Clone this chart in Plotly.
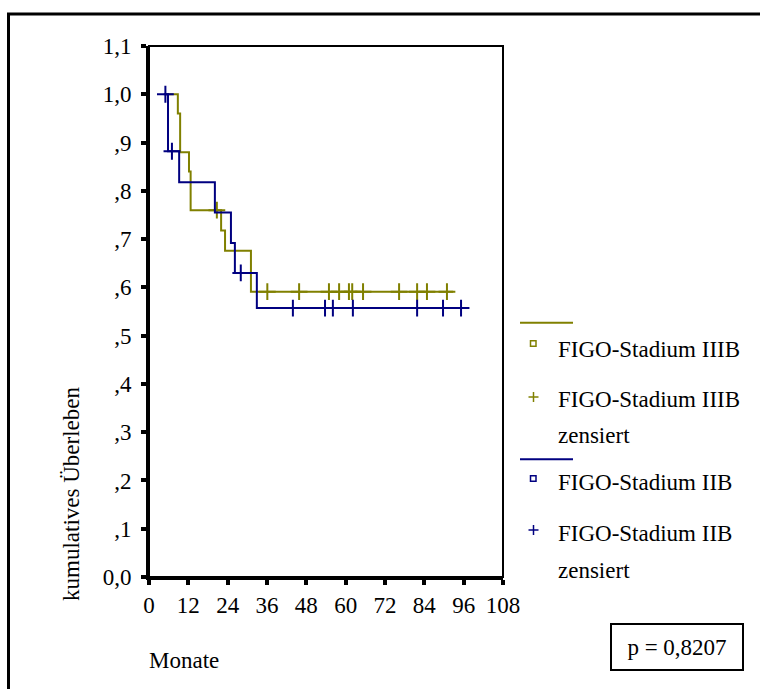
import plotly.graph_objects as go

# Kaplan-Meier estimates: time in months, cumulative survival
iiib_time = [5.0, 8.8, 9.5, 12.2, 12.7, 22.0, 23.2, 31.1, 92.8]
iiib_surv = [1.000, 0.960, 0.880, 0.840, 0.760, 0.718, 0.676, 0.591, 0.591]
iiib_cens_time = [20.7, 36.1, 45.8, 54.9, 58.0, 61.0, 62.0, 65.3, 76.3, 81.8, 84.8, 90.9]
iiib_cens_surv = [0.760, 0.591, 0.591, 0.591, 0.591, 0.591, 0.591, 0.591, 0.591, 0.591, 0.591, 0.591]

iib_time = [4.5, 5.8, 9.2, 20.1, 25.0, 26.2, 32.9, 96.9]
iib_surv = [1.000, 0.882, 0.818, 0.755, 0.692, 0.630, 0.557, 0.557]
iib_cens_time = [5.0, 7.0, 28.0, 43.9, 53.7, 56.1, 62.2, 81.8, 89.7, 95.2]
iib_cens_surv = [1.000, 0.882, 0.630, 0.557, 0.557, 0.557, 0.557, 0.557, 0.557, 0.557]

x_ticks = [0, 12, 24, 36, 48, 60, 72, 84, 96, 108]
y_ticks = [0.0, 0.1, 0.2, 0.3, 0.4, 0.5, 0.6, 0.7, 0.8, 0.9, 1.0, 1.1]
y_tick_labels = ["0,0", ",1", ",2", ",3", ",4", ",5", ",6", ",7", ",8", ",9", "1,0", "1,1"]

group_names = ["FIGO-Stadium IIIB", "FIGO-Stadium IIB"]
censored_word = "zensiert"
p_text = "p = 0,8207"

OLIVE = "#808000"
NAVY = "#000080"
FONT = "Times New Roman, Liberation Serif, serif"
FS = 21
FS_LEG = 23

W, H = 760, 689
PL, PR, PT, PB = 149, 503, 46, 577


def px(x):
    return (x - PL) / (PR - PL)


def py(y):
    return (PB - y) / (PB - PT)


fig = go.Figure()

for t, s, ct, cs, col in [
    (iiib_time, iiib_surv, iiib_cens_time, iiib_cens_surv, OLIVE),
    (iib_time, iib_surv, iib_cens_time, iib_cens_surv, NAVY),
]:
    fig.add_trace(go.Scatter(x=t, y=s, mode="lines", line=dict(color=col, width=2, shape="hv"),
                             showlegend=False, hoverinfo="skip"))
    fig.add_trace(go.Scatter(x=ct, y=cs, mode="markers",
                             marker=dict(symbol="cross-thin", size=12, line=dict(color=col, width=2)),
                             showlegend=False, hoverinfo="skip"))

shapes = []
annotations = []

# outer frame
shapes.append(dict(type="rect", xref="paper", yref="paper", x0=px(8.5), x1=px(900), y0=py(900), y1=py(14),
                   line=dict(color="black", width=3)))
# plot frame
shapes.append(dict(type="rect", xref="paper", yref="paper", x0=0, x1=1, y0=0, y1=1,
                   line=dict(color="black", width=2)))

# legend block
legend_rows = [
    (OLIVE, 322.7, 343.5, 349, 397, 399, 435),
    (NAVY, 459.3, 478.5, 482, 530, 533, 570),
]
for (col, y_line, y_sq, y_txt, y_plus, y_txt2, y_zens), name in zip(legend_rows, group_names):
    shapes.append(dict(type="line", xref="paper", yref="paper", x0=px(520), x1=px(573), y0=py(y_line), y1=py(y_line),
                       line=dict(color=col, width=2)))
    shapes.append(dict(type="rect", xref="paper", yref="paper", x0=px(530.5), x1=px(536), y0=py(y_sq + 2.75), y1=py(y_sq - 2.75),
                       line=dict(color=col, width=1.5)))
    shapes.append(dict(type="line", xref="paper", yref="paper", x0=px(528.5), x1=px(538.5), y0=py(y_plus), y1=py(y_plus),
                       line=dict(color=col, width=1.5)))
    shapes.append(dict(type="line", xref="paper", yref="paper", x0=px(533.5), x1=px(533.5), y0=py(y_plus - 5), y1=py(y_plus + 5),
                       line=dict(color=col, width=1.5)))
    for txt, yy in [(name, y_txt), (name, y_txt2), (censored_word, y_zens)]:
        annotations.append(dict(text=txt, xref="paper", yref="paper", x=px(556), y=py(yy),
                                xanchor="left", yanchor="middle", showarrow=False,
                                font=dict(family=FONT, size=FS_LEG, color="black")))

# axis title texts
annotations.append(dict(text="kumulatives Überleben", xref="paper", yref="paper", x=px(71), y=py(494),
                        textangle=-90, xanchor="center", yanchor="middle", showarrow=False,
                        font=dict(family=FONT, size=FS_LEG, color="black")))
annotations.append(dict(text="Monate", xref="paper", yref="paper", x=px(147), y=py(660),
                        xanchor="left", yanchor="middle", showarrow=False,
                        font=dict(family=FONT, size=FS_LEG, color="black")))
# p-value box
annotations.append(dict(text=p_text, xref="paper", yref="paper", x=px(676.5), y=py(646.5),
                        xanchor="center", yanchor="middle", showarrow=False,
                        width=128, height=42, borderpad=1, bordercolor="black", borderwidth=2,
                        font=dict(family=FONT, size=FS_LEG, color="black")))

axis_common = dict(showgrid=False, zeroline=False, showline=True, linecolor="black", linewidth=3,
                   ticks="outside", ticklen=5, tickwidth=4, tickcolor="black",
                   tickfont=dict(family=FONT, size=FS_LEG, color="black"))

fig.update_layout(
    width=W, height=H,
    margin=dict(l=PL, r=W - PR, t=PT, b=H - PB),
    paper_bgcolor="white", plot_bgcolor="white",
    showlegend=False,
    xaxis=dict(range=[0, 108], tickvals=x_ticks, ticktext=[str(v) for v in x_ticks], **axis_common),
    yaxis=dict(range=[0, 1.1], tickvals=y_ticks, ticktext=y_tick_labels, ticklabelstandoff=5, **axis_common),
    shapes=shapes,
    annotations=annotations,
)

fig.write_html("out.html")
